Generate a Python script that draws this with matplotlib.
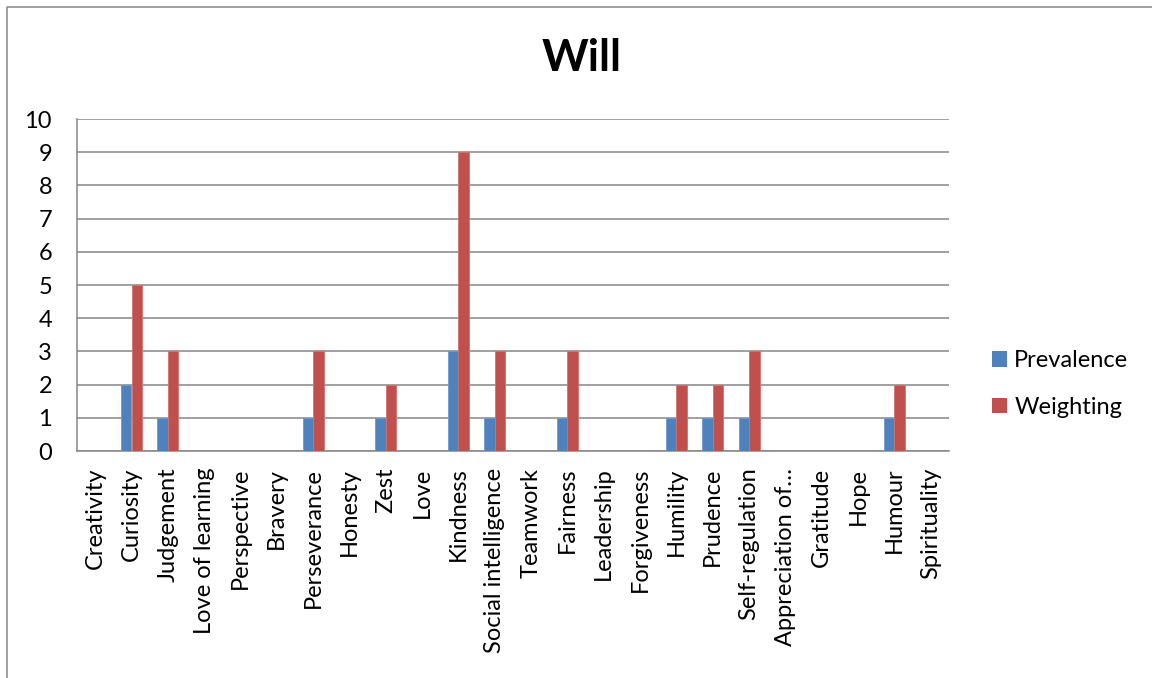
import matplotlib
matplotlib.use("Agg")
import matplotlib.pyplot as plt
from matplotlib.patches import Patch
from matplotlib.lines import Line2D
import numpy as np

categories = ["Creativity", "Curiosity", "Judgement", "Love of learning", "Perspective",
              "Bravery", "Perseverance", "Honesty", "Zest", "Love", "Kindness",
              "Social intelligence", "Teamwork", "Fairness", "Leadership", "Forgiveness",
              "Humility", "Prudence", "Self-regulation", "Appreciation of\u2026",
              "Gratitude", "Hope", "Humour", "Spirituality"]
prevalence = [0, 2, 1, 0, 0, 0, 1, 0, 1, 0, 3, 1, 0, 1, 0, 0, 1, 1, 1, 0, 0, 0, 1, 0]
weighting = [0, 5, 3, 0, 0, 0, 3, 0, 2, 0, 9, 3, 0, 3, 0, 0, 2, 2, 3, 0, 0, 0, 2, 0]
y_ticks = list(range(0, 11))

plt.rcParams['font.family'] = ['Lato', 'DejaVu Sans']

BLUE = "#4F81BD"
RED = "#C0504D"
GRID = "#868686"
FS = 17

fig = plt.figure(figsize=(11.52, 6.78), dpi=100)
ax = fig.add_axes([77 / 1152, 1 - 451 / 678, (949 - 77) / 1152, (451 - 119) / 678])

x = np.arange(len(categories))
w = 1 / 3.5
ax.bar(x - w / 2, prevalence, width=w, color=BLUE, edgecolor="#6f98cc", linewidth=0.6,
       label="Prevalence", zorder=3)
ax.bar(x + w / 2, weighting, width=w, color=RED, edgecolor="#d07370", linewidth=0.6,
       label="Weighting", zorder=3)

ax.set_xlim(-0.5, len(categories) - 0.5)
ax.set_ylim(0, 10)
ax.set_yticks(y_ticks)
ax.set_yticklabels([str(t) for t in y_ticks], fontsize=FS)
ax.set_xticks(x)
ax.set_xticklabels(categories, rotation=90, fontsize=FS, va="top", ha="center")
ax.tick_params(axis="y", length=0, pad=18)
ax.tick_params(axis="x", length=0, pad=12)

ax.yaxis.grid(True, color=GRID, linewidth=1.1, zorder=0)
ax.set_axisbelow(True)
for side in ("top", "right"):
    ax.spines[side].set_visible(False)
for side in ("left", "bottom"):
    ax.spines[side].set_color(GRID)
    ax.spines[side].set_linewidth(1.1)

fig.text(582 / 1152, 1 - 58 / 678, "Will", fontsize=32, fontweight="bold",
         ha="center", va="center")

handles = [Patch(facecolor=BLUE, edgecolor="none"), Patch(facecolor=RED, edgecolor="none")]
fig.legend(handles, ["Prevalence", "Weighting"], loc="center left",
           bbox_to_anchor=(992 / 1152, 1 - 384 / 678), frameon=False, fontsize=FS,
           handlelength=0.64, handleheight=0.64, handletextpad=0.3, labelspacing=1.1,
           borderpad=0, borderaxespad=0)

# outer chart frame (left and top edges)
fx = 7 / 1152
fy = 1 - 7 / 678
fig.add_artist(Line2D([fx, fx, 1.0], [0.0, fy, fy], transform=fig.transFigure,
                      color=GRID, linewidth=1.1))

fig.savefig("out.png", dpi=100)
